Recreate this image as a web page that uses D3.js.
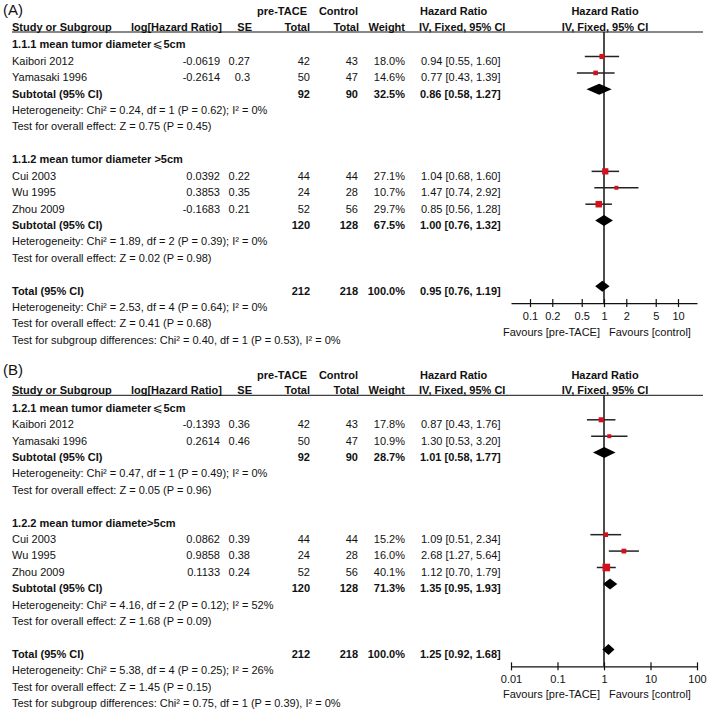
<!DOCTYPE html>
<html>
<head>
<meta charset="utf-8">
<script src="https://cdn.jsdelivr.net/npm/d3@7"></script>
<style>
  body { margin: 0; background: #fff; }
  svg text { font-family: "Liberation Sans", Arial, sans-serif; font-size: 11px; fill: #111; }
</style>
</head>
<body>
<svg id="chart" width="709" height="713"></svg>
<script>
// shared study info
const studies = ['Kaibori 2012', 'Yamasaki 1996', 'Cui 2003', 'Wu 1995', 'Zhou 2009'];
const studyGroup = [0, 0, 1, 1, 1];
const preTotals = [42, 50, 44, 24, 52];
const ctrlTotals = [43, 47, 44, 28, 56];
const groupPre = [92, 120];
const groupCtrl = [90, 128];
const totalPre = 212;
const totalCtrl = 218;

// panel A
const logHrA = [-0.0619, -0.2614, 0.0392, 0.3853, -0.1683];
const seA = [0.27, 0.3, 0.22, 0.35, 0.21];
const weightA = [18.0, 14.6, 27.1, 10.7, 29.7];
const hrA = [0.94, 0.77, 1.04, 1.47, 0.85];
const lowA = [0.55, 0.43, 0.68, 0.74, 0.56];
const highA = [1.60, 1.39, 1.60, 2.92, 1.28];
const groupTitlesA = ['1.1.1 mean tumor diameter\u2A7D5cm', '1.1.2 mean tumor diameter >5cm'];
const groupWeightA = [32.5, 67.5];
const groupHrA = [0.86, 1.00];
const groupLowA = [0.58, 0.76];
const groupHighA = [1.27, 1.32];
const totalCiA = [0.95, 0.76, 1.19];
const groupNotesA = [
  ['Heterogeneity: Chi\u00B2 = 0.24, df = 1 (P = 0.62); I\u00B2 = 0%', 'Test for overall effect: Z = 0.75 (P = 0.45)'],
  ['Heterogeneity: Chi\u00B2 = 1.89, df = 2 (P = 0.39); I\u00B2 = 0%', 'Test for overall effect: Z = 0.02 (P = 0.98)']
];
const totalNotesA = [
  'Heterogeneity: Chi\u00B2 = 2.53, df = 4 (P = 0.64); I\u00B2 = 0%',
  'Test for overall effect: Z = 0.41 (P = 0.68)',
  'Test for subgroup differences: Chi\u00B2 = 0.40, df = 1 (P = 0.53), I\u00B2 = 0%'
];
const ticksA = [0.1, 0.2, 0.5, 1, 2, 5, 10];

// panel B
const logHrB = [-0.1393, 0.2614, 0.0862, 0.9858, 0.1133];
const seB = [0.36, 0.46, 0.39, 0.38, 0.24];
const weightB = [17.8, 10.9, 15.2, 16.0, 40.1];
const hrB = [0.87, 1.30, 1.09, 2.68, 1.12];
const lowB = [0.43, 0.53, 0.51, 1.27, 0.70];
const highB = [1.76, 3.20, 2.34, 5.64, 1.79];
const groupTitlesB = ['1.2.1 mean tumor diameter\u2A7D5cm', '1.2.2 mean tumor diamete>5cm'];
const groupWeightB = [28.7, 71.3];
const groupHrB = [1.01, 1.35];
const groupLowB = [0.58, 0.95];
const groupHighB = [1.77, 1.93];
const totalCiB = [1.25, 0.92, 1.68];
const groupNotesB = [
  ['Heterogeneity: Chi\u00B2 = 0.47, df = 1 (P = 0.49); I\u00B2 = 0%', 'Test for overall effect: Z = 0.05 (P = 0.96)'],
  ['Heterogeneity: Chi\u00B2 = 4.16, df = 2 (P = 0.12); I\u00B2 = 52%', 'Test for overall effect: Z = 1.68 (P = 0.09)']
];
const totalNotesB = [
  'Heterogeneity: Chi\u00B2 = 5.38, df = 4 (P = 0.25); I\u00B2 = 26%',
  'Test for overall effect: Z = 1.45 (P = 0.15)',
  'Test for subgroup differences: Chi\u00B2 = 0.75, df = 1 (P = 0.39), I\u00B2 = 0%'
];
const ticksB = [0.01, 0.1, 1, 10, 100];

const svg = d3.select('#chart');
svg.append('rect').attr('width', 709).attr('height', 713).attr('fill', '#fff');

const rowH = 16.41;
const red = '#d2101e';
const ink = '#111';
const col = { study: 12, logHr: 220, se: 250, pre: 310, ctrl: 358, weight: 405, ci: 421, plot: 605 };

const fmtCi = (h, l, u) => `${h.toFixed(2)} [${l.toFixed(2)}, ${u.toFixed(2)}]`;

function label(g, x, y, s, anchor, bold)
{
  return g.append('text')
    .attr('x', x).attr('y', y).attr('dy', '0.35em')
    .attr('text-anchor', anchor || 'start')
    .style('font-weight', bold ? 'bold' : null)
    .text(s);
}

// subgroup title, the "less or equal" sign comes from DejaVu
function groupLabel(g, x, y, s)
{
  const t = g.append('text')
    .attr('x', x).attr('y', y).attr('dy', '0.35em')
    .style('font-weight', 'bold');
  const parts = s.split('\u2A7D');
  t.append('tspan').text(parts[0]);
  if (parts.length > 1)
  {
    t.append('tspan').attr('dx', 1)
      .style('font-family', '"DejaVu Sans", sans-serif')
      .style('font-weight', 'normal').style('font-size', '12px')
      .text('\u2A7D');
    t.append('tspan').attr('dx', 1).text(parts[1]);
  }
}

function drawPanel(p)
{
  const g = svg.append('g');
  const base = p.base;
  const rowY = k => base + k * rowH;
  const plotOff = -4.5;

  const x = d3.scaleLog().domain(p.tickDomain).range(p.tickRange);
  x.domain([x.invert(511), x.invert(697)]).range([511, 697]);

  // panel letter and headers
  g.append('text').attr('x', 3).attr('y', base - p.letterDy).attr('dy', '0.35em')
    .style('font-size', '15px').text(p.letter);
  const h1 = base - 49.6, h2 = base - 33.7;
  label(g, 307, h1, 'pre-TACE', 'end', true);
  label(g, 358, h1, 'Control', 'end', true);
  label(g, 420, h1, 'Hazard Ratio', 'start', true);
  label(g, col.plot, h1, 'Hazard Ratio', 'middle', true);
  label(g, col.study, h2, 'Study or Subgroup', 'start', true);
  label(g, 222, h2, 'log[Hazard Ratio]', 'end', true);
  label(g, 252, h2, 'SE', 'end', true);
  label(g, 310, h2, 'Total', 'end', true);
  label(g, 359, h2, 'Total', 'end', true);
  label(g, 405, h2, 'Weight', 'end', true);
  label(g, 419, h2, 'IV, Fixed, 95% CI', 'start', true);
  label(g, col.plot, h2, 'IV, Fixed, 95% CI', 'middle', true);
  const lineY = base - 29;
  g.append('line').attr('x1', 12).attr('x2', 703).attr('y1', lineY).attr('y2', lineY)
    .attr('stroke', ink).attr('stroke-width', 1);

  const axisY = base + 14.75 * rowH;

  // null line
  g.append('line').attr('x1', x(1)).attr('x2', x(1)).attr('y1', lineY).attr('y2', axisY)
    .attr('stroke', ink).attr('stroke-width', 1.5);

  const diamond = (hr, lo, hi, y) => {
    g.append('path')
      .attr('d', `M${x(lo)},${y}L${x(hr)},${y - 5.5}L${x(hi)},${y}L${x(hr)},${y + 5.5}Z`)
      .attr('fill', '#000');
  };

  let k = -1;
  [0, 1].forEach(gi => {
    groupLabel(g, col.study, rowY(k), p.groupTitles[gi]);
    k++;
    studies.forEach((name, i) => {
      if (studyGroup[i] !== gi) return;
      const y = rowY(k);
      label(g, col.study, y, name);
      label(g, col.logHr, y, String(p.logHr[i]), 'end');
      label(g, col.se, y, String(p.se[i]), 'end');
      label(g, col.pre, y, String(preTotals[i]), 'end');
      label(g, col.ctrl, y, String(ctrlTotals[i]), 'end');
      label(g, col.weight, y, p.weight[i].toFixed(1) + '%', 'end');
      label(g, col.ci, y, fmtCi(p.hr[i], p.low[i], p.high[i]));
      const py = y + plotOff;
      g.append('line').attr('x1', x(p.low[i])).attr('x2', x(p.high[i]))
        .attr('y1', py).attr('y2', py).attr('stroke', '#222').attr('stroke-width', 1.5);
      const s = 1.2 * Math.sqrt(p.weight[i]);
      g.append('rect').attr('x', x(p.hr[i]) - s / 2).attr('y', py - s / 2)
        .attr('width', s).attr('height', s).attr('fill', red);
      k++;
    });
    const y = rowY(k);
    label(g, col.study, y, 'Subtotal (95% CI)', 'start', true);
    label(g, col.pre, y, String(groupPre[gi]), 'end', true);
    label(g, col.ctrl, y, String(groupCtrl[gi]), 'end', true);
    label(g, col.weight, y, p.groupWeight[gi].toFixed(1) + '%', 'end', true);
    label(g, col.ci - 1, y, fmtCi(p.groupHr[gi], p.groupLow[gi], p.groupHigh[gi]), 'start', true);
    diamond(p.groupHr[gi], p.groupLow[gi], p.groupHigh[gi], y + plotOff);
    k++;
    p.groupNotes[gi].forEach(s => { label(g, col.study, rowY(k), s); k++; });
    k++;
  });

  const ty = rowY(k);
  label(g, col.study, ty, 'Total (95% CI)', 'start', true);
  label(g, col.pre, ty, String(totalPre), 'end', true);
  label(g, col.ctrl, ty, String(totalCtrl), 'end', true);
  label(g, col.weight, ty, '100.0%', 'end', true);
  label(g, col.ci - 1, ty, fmtCi(p.totalCi[0], p.totalCi[1], p.totalCi[2]), 'start', true);
  diamond(p.totalCi[0], p.totalCi[1], p.totalCi[2], ty + plotOff);
  k++;
  p.totalNotes.forEach(s => { label(g, col.study, rowY(k), s); k++; });

  // axis
  const axis = d3.axisBottom(x)
    .tickValues(p.ticks)
    .tickFormat(d => String(d))
    .tickSizeInner(4)
    .tickSizeOuter(0)
    .tickPadding(5);
  const ag = g.append('g').attr('transform', `translate(0,${axisY})`).call(axis);
  ag.select('.domain').attr('stroke', ink).attr('stroke-width', 1.2);
  ag.selectAll('.tick line').attr('y1', -4).attr('stroke', ink).attr('stroke-width', 1.2);
  ag.selectAll('.tick text').attr('fill', ink)
    .style('font-family', '"Liberation Sans", Arial, sans-serif').style('font-size', '11px');

  label(g, x(1) - 4, axisY + p.favDy, 'Favours [pre-TACE]', 'end');
  label(g, x(1) + 5, axisY + p.favDy, 'Favours [control]', 'start');
}

drawPanel({
  letter: '(A)', base: 61, letterDy: 51, favDy: 29,
  logHr: logHrA, se: seA, weight: weightA, hr: hrA, low: lowA, high: highA,
  groupTitles: groupTitlesA, groupWeight: groupWeightA,
  groupHr: groupHrA, groupLow: groupLowA, groupHigh: groupHighA,
  totalCi: totalCiA, groupNotes: groupNotesA, totalNotes: totalNotesA,
  ticks: ticksA, tickDomain: [0.1, 10], tickRange: [530, 678]
});

drawPanel({
  letter: '(B)', base: 424.3, letterDy: 54.3, favDy: 28,
  logHr: logHrB, se: seB, weight: weightB, hr: hrB, low: lowB, high: highB,
  groupTitles: groupTitlesB, groupWeight: groupWeightB,
  groupHr: groupHrB, groupLow: groupLowB, groupHigh: groupHighB,
  totalCi: totalCiB, groupNotes: groupNotesB, totalNotes: totalNotesB,
  ticks: ticksB, tickDomain: [0.01, 100], tickRange: [511, 697]
});
</script>
</body>
</html>
